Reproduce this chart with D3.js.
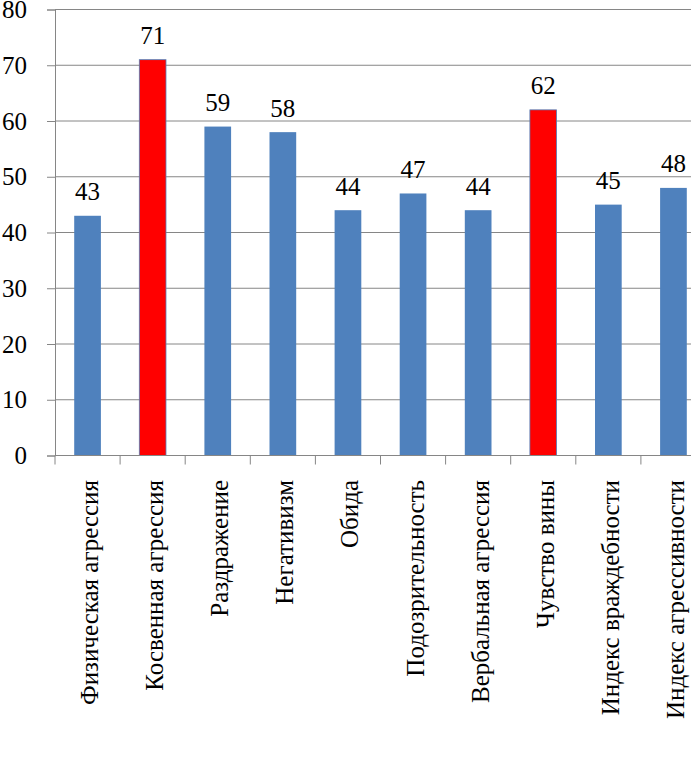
<!DOCTYPE html>
<html><head><meta charset="utf-8">
<script src="https://cdn.jsdelivr.net/npm/d3@7"></script>
<style>body{margin:0;background:#fff}svg{display:block}svg text{font-family:"Liberation Serif" !important}</style>
</head><body>
<script>
const categories = ["Физическая агрессия","Косвенная агрессия","Раздражение","Негативизм","Обида","Подозрительность","Вербальная агрессия","Чувство вины","Индекс враждебности","Индекс агрессивности"];
const values = [43,71,59,58,44,47,44,62,45,48];
const highlighted = [false,true,false,false,false,false,false,true,false,false];
const yTicks = [0,10,20,30,40,50,60,70,80];

(function () {
const FONT = "Liberation Serif";
const W = 691, H = 767;
const svg = d3.select("body").append("svg").attr("width", W).attr("height", H)
  .attr("font-family", FONT).style("font-family", '"Liberation Serif"');
const left = 55, bandW = 65.1, plotTop = 9.5, bottom = 455.5;
const x = d3.scaleBand().domain(categories).range([left, left + bandW * categories.length]).paddingInner(0.59).paddingOuter(0.295);
const y = d3.scaleLinear().domain([0, 80]).range([bottom, plotTop]);
const grid = "#868686";

svg.append("g").selectAll("line").data(yTicks.filter(d => d > 0)).join("line")
  .attr("x1", left).attr("x2", W).attr("y1", d => y(d)).attr("y2", d => y(d))
  .attr("stroke", grid).attr("stroke-width", 1);

const yAxis = svg.append("g").attr("transform", `translate(${left},0)`)
  .call(d3.axisLeft(y).tickValues(yTicks).tickSize(8).tickPadding(20));
yAxis.attr("font-family", FONT).attr("font-size", 25);
yAxis.select(".domain").attr("stroke", grid);
yAxis.selectAll(".tick line").attr("stroke", grid);
yAxis.selectAll(".tick text").attr("font-family", FONT).style("font-family", '"Liberation Serif"').style("font-size", "25px").attr("fill", "#000");

svg.append("g").selectAll("rect").data(values).join("rect")
  .attr("x", (d, i) => x(categories[i]))
  .attr("width", x.bandwidth())
  .attr("y", d => y(d))
  .attr("height", d => bottom - y(d))
  .attr("fill", (d, i) => highlighted[i] ? "#FF0000" : "#4F81BD")
  .attr("stroke", (d, i) => highlighted[i] ? "#4F81BD" : "none")
  .attr("stroke-width", 0.8);

svg.append("g").selectAll("text").data(values).join("text")
  .attr("x", (d, i) => x(categories[i]) + x.bandwidth() / 2)
  .attr("y", d => y(d) - 15.5)
  .attr("text-anchor", "middle")
  .attr("font-family", FONT).style("font-family", '"Liberation Serif"')
  .style("font-size", "25px")
  .text(d => d);

const xAxisLine = svg.append("g");
xAxisLine.append("line").attr("x1", left).attr("x2", W).attr("y1", bottom).attr("y2", bottom).attr("stroke", grid);
const xs = d3.range(categories.length + 1).map(i => left + i * bandW).filter(v => v <= W);
xAxisLine.selectAll("line.t").data(xs).join("line").attr("class", "t")
  .attr("x1", d => d).attr("x2", d => d).attr("y1", bottom).attr("y2", bottom + 9).attr("stroke", grid);

svg.append("g").selectAll("text").data(categories).join("text")
  .attr("transform", d => `translate(${x(d) + x.bandwidth() / 2},480) rotate(-90)`)
  .attr("x", 0).attr("y", 10.5)
  .attr("text-anchor", "end")
  .attr("font-family", FONT).style("font-family", '"Liberation Serif"')
  .style("font-size", "25px")
  .text(d => d);
})();
</script>
</body></html>
